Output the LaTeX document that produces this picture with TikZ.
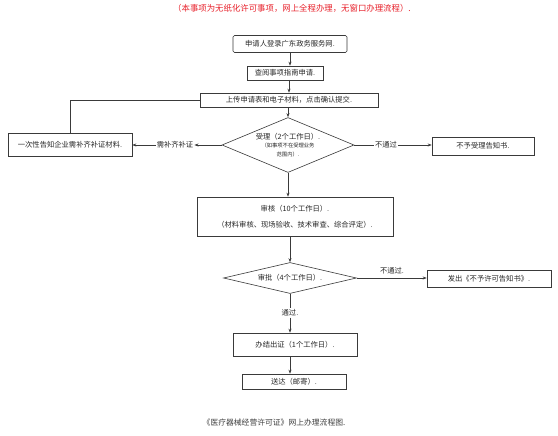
\documentclass[tikz,border=0pt]{standalone}
\usepackage{fontspec}
\newfontfamily\cjk{Noto Sans CJK SC}
\usetikzlibrary{shapes.geometric,arrows.meta}
\definecolor{linec}{HTML}{3A3A3A}
\definecolor{titlered}{HTML}{E8202A}
\begin{document}
\begin{tikzpicture}[x=1pt,y=-1pt,
  font=\cjk\fontsize{7.3}{8.5}\selectfont,
  box/.style={draw=linec, line width=0.6pt, inner sep=0pt, anchor=center, text=black!85},
  dia/.style={draw=linec, line width=0.6pt, diamond, inner sep=0pt, anchor=center, align=center, text=black!85},
  lbl/.style={fill=white, inner sep=1pt, text=black!85},
  conn/.style={draw=linec, line width=0.6pt},
  arr/.style={conn, -{Stealth[length=4pt,width=3pt]}}]
\useasboundingbox (0,0) rectangle (558,436);
\fill[white] (0,0) rectangle (558,436);

\node[text=titlered, font=\cjk\fontsize{8.4}{9}\selectfont] (title) at (292,8) {（本事项为无纸化许可事项，网上全程办理，无窗口办理流程）.};

\node[box, rounded corners=1.5pt, minimum width=114pt, minimum height=17pt] (b1) at (290,44) {申请人登录广东政务服务网.};
\node[box, minimum width=76pt, minimum height=14pt] (b2) at (285,73) {查阅事项指南申请.};
\node[box, minimum width=178pt, minimum height=14pt] (b3) at (289,100) {上传申请表和电子材料，点击确认提交.};
\node[dia, shape aspect=2.5, minimum width=132pt, minimum height=55pt] (d1) at (288,145) {受理（2个工作日）.\\[0pt]{\fontsize{5.3}{6.5}\selectfont （如事项不在受理业务}\\{\fontsize{5.3}{6.5}\selectfont 范围内）.}};
\node[box, minimum width=124pt, minimum height=23pt] (left) at (70,145) {一次性告知企业需补齐补证材料.};
\node[box, minimum width=102pt, minimum height=18pt] (rej1) at (483,146) {不予受理告知书.};
\node[box, minimum width=196pt, minimum height=39pt, align=center] (b4) at (295,216.5) {审核（10个工作日）.\\[7pt]（材料审核、现场验收、技术审查、综合评定）.};
\node[dia, shape aspect=4.5, minimum width=133pt, minimum height=31pt] (d2) at (290,278) {审批（4个工作日）.};
\node[box, minimum width=124pt, minimum height=17pt] (rej2) at (489,279) {发出《不予许可告知书》.};
\node[box, minimum width=124pt, minimum height=23pt] (b5) at (295,344.5) {办结出证（1个工作日）.};
\node[box, minimum width=104pt, minimum height=15pt] (b6) at (294,381.5) {送达（邮寄）.};

\node[text=black!75, font=\cjk\fontsize{7.8}{9}\selectfont] (cap) at (274,423) {《医疗器械经营许可证》网上办理流程图.};

\coordinate (c1) at (290,52.5);
\draw[arr] (c1) -- (c1 |- b2.north);
\coordinate (c2) at (289,80);
\draw[arr] (c2) -- (c2 |- b3.north);
\draw[arr] (b3.south -| d1.north) -- (d1.north);
\draw[conn] (b3.west) -| (left.north);
\node[lbl] (l1) at (175,145) {需补齐补证};
\draw[arr] (d1.west) -- (l1.east);
\draw[arr] (l1.west) -- (left.east);
\node[lbl] (l2) at (386,145) {不通过};
\draw[conn] (d1.east) -- (l2.west);
\draw[arr] (l2.east) -- (rej1.west |- l2.east);
\draw[arr] (d1.south) -- (d1.south |- b4.north);
\coordinate (c4) at (290,236);
\draw[arr] (c4) -- (d2.north);
\draw[arr] (d2.east) -- (rej2.west |- d2.east);
\node[text=black!85, anchor=south] (l3) at (392,278) {不通过.};
\node[lbl] (l4) at (290,313) {通过.};
\draw[conn] (d2.south) -- (l4.north);
\draw[arr] (l4.south) -- (l4.south |- b5.north);
\coordinate (c5) at (290,356);
\draw[arr] (c5) -- (c5 |- b6.north);
\end{tikzpicture}
\end{document}
